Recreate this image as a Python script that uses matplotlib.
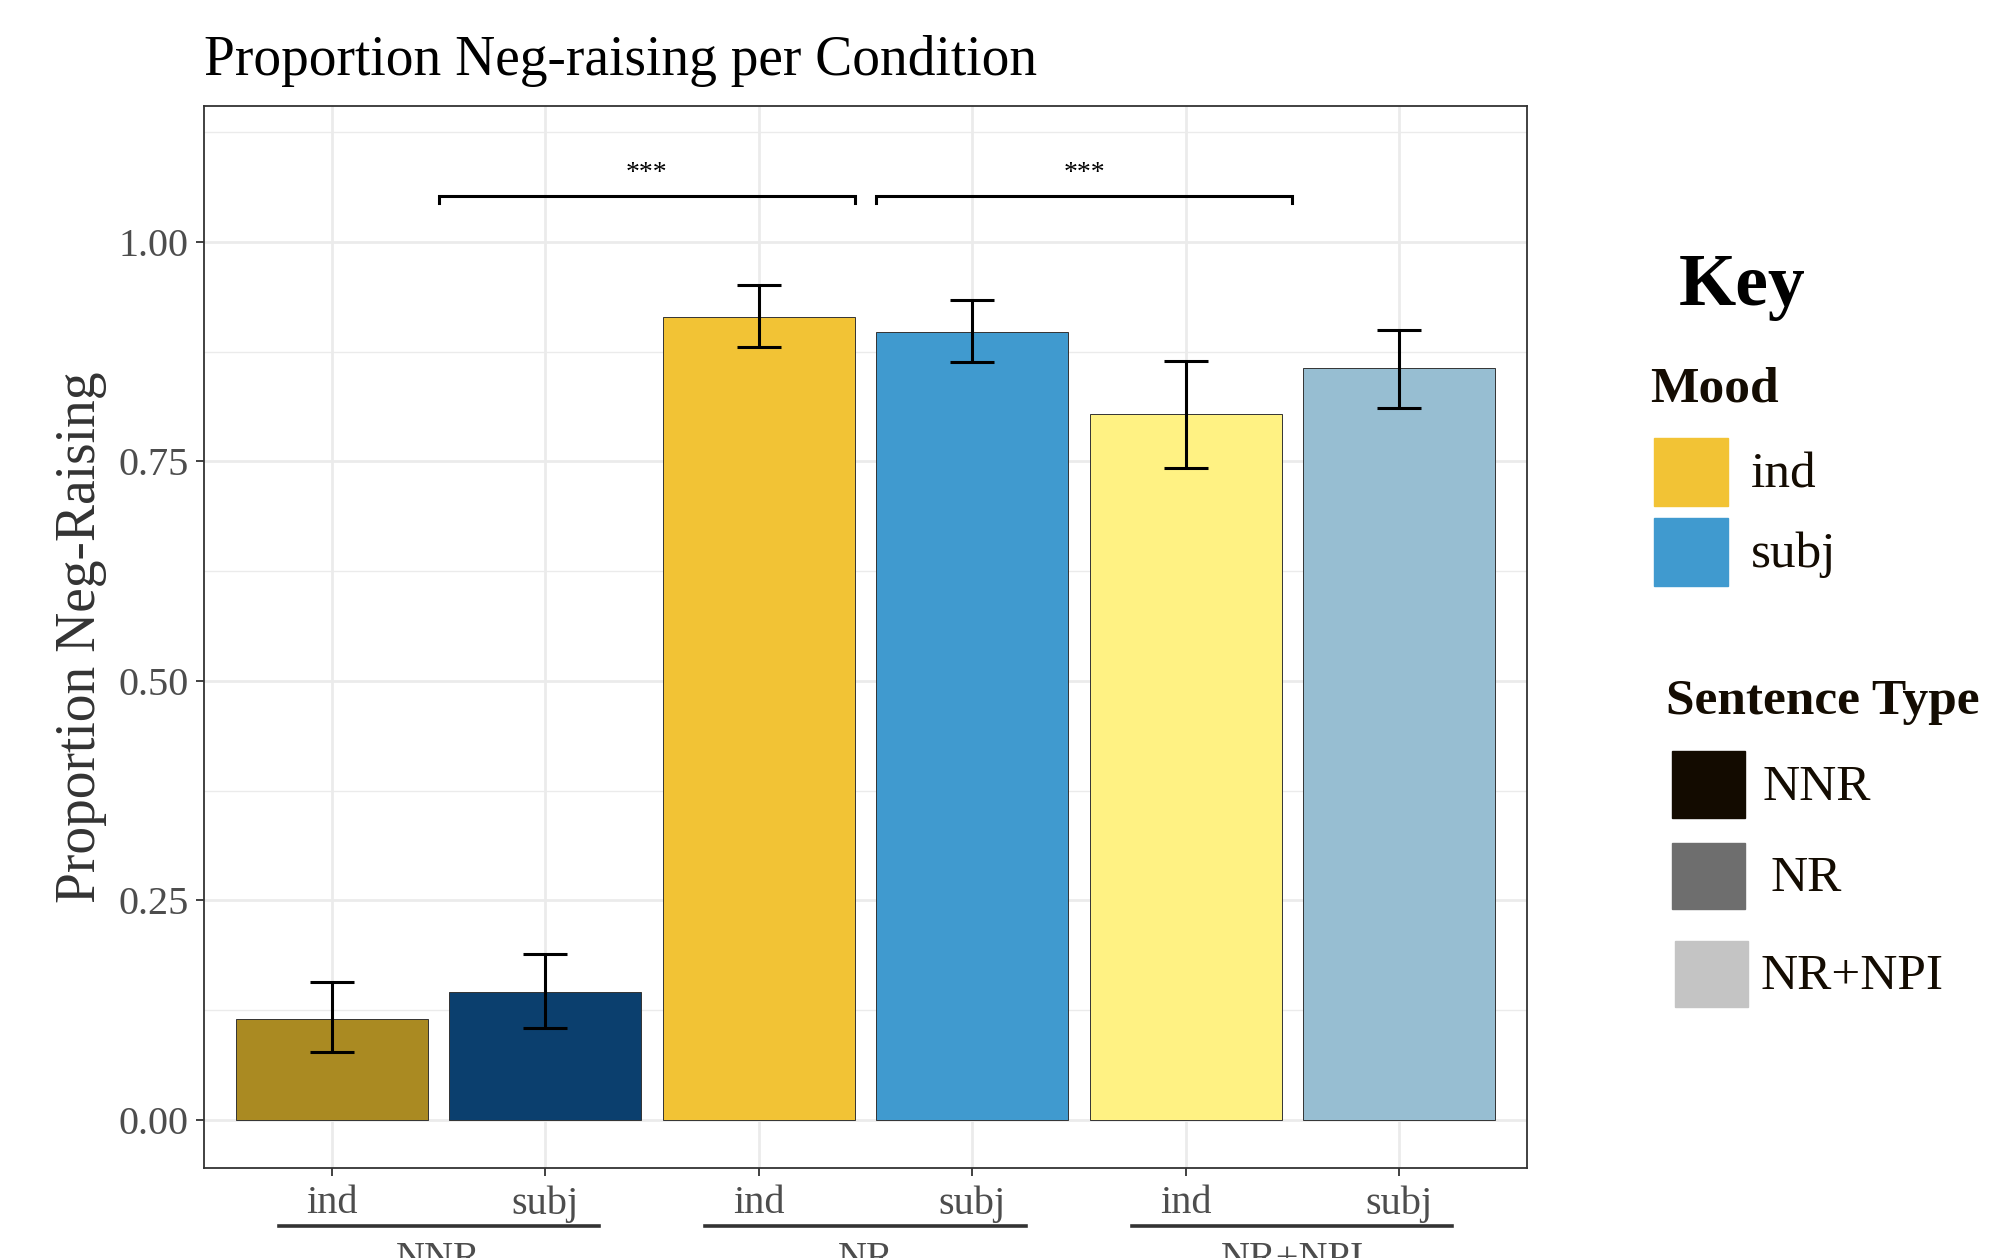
import matplotlib
matplotlib.use('Agg')
import matplotlib.pyplot as plt
from matplotlib.patches import Rectangle
import numpy as np

plt.rcParams['font.family'] = ['Liberation Serif', 'DejaVu Serif']

# data
sentence_types = ['NNR', 'NNR', 'NR', 'NR', 'NR+NPI', 'NR+NPI']
moods = ['ind', 'subj', 'ind', 'subj', 'ind', 'subj']
proportions = [0.115, 0.146, 0.915, 0.898, 0.804, 0.856]
ci_low = [0.077, 0.105, 0.880, 0.863, 0.743, 0.811]
ci_high = [0.157, 0.189, 0.951, 0.934, 0.864, 0.900]
bar_colors = ['#AA8A22', '#0B3F6E', '#F2C335', '#409ACF', '#FFF283', '#97BED2']
groups = ['NNR', 'NR', 'NR+NPI']
mood_keys = ['ind', 'subj']
mood_colors = ['#F2C335', '#409ACF']
type_keys = ['NNR', 'NR', 'NR+NPI']
type_colors = ['#130B00', '#6E6E6E', '#C4C4C4']
# significance brackets: (start, end, label)
brackets = [(1.5, 3.45, '***'), (3.55, 5.5, '***')]

W, H = 1997, 1258
fig = plt.figure(figsize=(W / 100, H / 100), dpi=100)
ax = fig.add_axes([204 / W, 1 - 1168 / H, (1527 - 204) / W, (1168 - 106) / H])

x = np.arange(1, len(proportions) + 1)
yerr = [np.array(proportions) - np.array(ci_low), np.array(ci_high) - np.array(proportions)]

ax.set_axisbelow(True)
ax.bar(x, proportions, width=0.9, color=bar_colors, edgecolor='#333333', linewidth=0.7, zorder=2)
ax.errorbar(x, proportions, yerr=yerr, fmt='none', ecolor='black', elinewidth=2.2,
            capsize=15.5, capthick=2.2, zorder=3)

ax.set_xlim(0.4, 6.6)
ax.set_ylim(-0.055, 1.155)
ax.set_yticks([0, 0.25, 0.5, 0.75, 1.0])
ax.set_yticklabels(['0.00', '0.25', '0.50', '0.75', '1.00'])
ax.set_yticks([0.125, 0.375, 0.625, 0.875, 1.125], minor=True)
ax.set_xticks(x)
ax.set_xticklabels(moods)

ax.grid(which='major', color='#EBEBEB', linewidth=2.0)
ax.grid(which='minor', axis='y', color='#EBEBEB', linewidth=1.0)
ax.tick_params(which='minor', left=False)
ax.tick_params(which='major', length=6, width=1.3, color='#333333',
               labelsize=29, labelcolor='#4D4D4D')
ax.tick_params(axis='y', pad=5)
ax.tick_params(axis='x', pad=6.5)
for s in ax.spines.values():
    s.set_color('#333333')
    s.set_linewidth(1.3)

ax.set_ylabel('Proportion Neg-Raising', fontsize=40, color='#333333', labelpad=8)
ax.set_title('Proportion Neg-raising per Condition', fontsize=40, loc='left', pad=22)

# brackets
for x0, x1, lab in brackets:
    ax.plot([x0, x0, x1, x1], [1.044, 1.053, 1.053, 1.044], color='black', lw=2.2,
            solid_joinstyle='miter', zorder=4)
    ax.text((x0 + x1) / 2, 1.064, lab, ha='center', va='bottom', fontsize=20)

# group labels under the ticks
trans = ax.get_xaxis_transform()
for i, g in enumerate(groups):
    c = 1.5 + 2 * i
    ax.plot([c - 0.75, c + 0.75], [-0.0546, -0.0546], transform=trans, color='#333333',
            lw=2.6, clip_on=False)
    ax.text(c, -0.069, g, transform=trans, ha='center', va='top', fontsize=29,
            color='#4D4D4D', clip_on=False)

# custom key
def px(xp, yp):
    return xp / W, 1 - yp / H

fig.text(*px(1742, 287), 'Key', fontsize=53, fontweight='bold', ha='center', va='center')
fig.text(*px(1650, 389), 'Mood', fontsize=37, fontweight='bold', ha='left', va='center',
         color='#140C02')
mood_rows = [(438, 506), (518, 586)]
for (y0, y1), lab, col in zip(mood_rows, mood_keys, mood_colors):
    fig.patches.append(Rectangle(px(1654, y1), 74 / W, (y1 - y0) / H, color=col,
                                 transform=fig.transFigure))
    fig.text(*px(1751, (y0 + y1) / 2 + 3), lab, fontsize=37, ha='left', va='center',
             color='#140C02')

fig.text(*px(1666, 702), 'Sentence Type', fontsize=37, fontweight='bold', ha='left',
         va='center', color='#140C02')
type_rows = [(751, 818, 1672, 1763), (843, 909, 1672, 1770), (941, 1007, 1675, 1761)]
for (y0, y1, xs, xl), lab, col in zip(type_rows, type_keys, type_colors):
    fig.patches.append(Rectangle(px(xs, y1), 73 / W, (y1 - y0) / H, color=col,
                                 transform=fig.transFigure))
    fig.text(*px(xl, (y0 + y1) / 2 + 3), lab, fontsize=37, ha='left', va='center',
             color='#140C02')

fig.savefig('out.png', dpi=100)
plt.close(fig)
